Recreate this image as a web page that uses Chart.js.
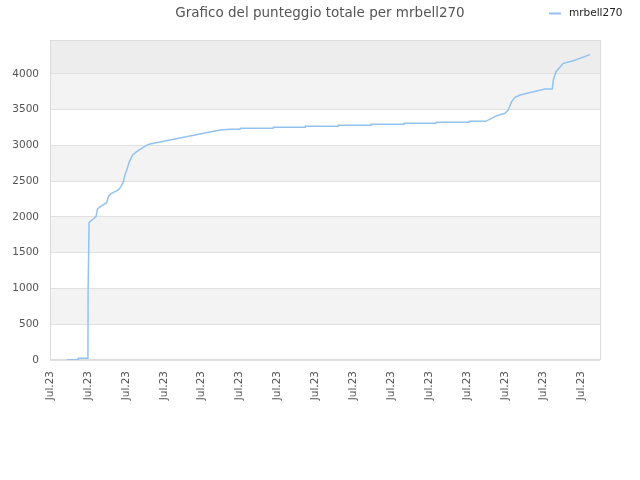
<!DOCTYPE html>
<html>
<head>
<meta charset="utf-8">
<script src="https://cdn.jsdelivr.net/npm/chart.js@4/dist/chart.umd.min.js"></script>
<style>
html,body{margin:0;padding:0;background:#fff;}
#wrap{width:640px;height:480px;}
</style>
</head>
<body>
<div id="wrap"><canvas id="c" width="640" height="480"></canvas></div>
<script>
const titleText = 'Grafico del punteggio totale per mrbell270';
const seriesName = 'mrbell270';
const xTickLabels = ['Jul.23','Jul.23','Jul.23','Jul.23','Jul.23','Jul.23','Jul.23','Jul.23','Jul.23','Jul.23','Jul.23','Jul.23','Jul.23','Jul.23','Jul.23'];
const xTickValues = [0,10,20,30,40,50,60,70,80,90,100,110,120,130,140];
const yTickValues = [0,500,1000,1500,2000,2500,3000,3500,4000];
const xValues = [4.5, 7.4, 7.45, 10.0, 10.05, 10.25, 10.3, 11.42, 12.13, 12.48, 13.0, 14.94, 15.38, 16.0, 18.0, 18.72, 19.34, 19.77, 20.39, 20.92, 21.8, 22.85, 24.17, 25.66, 26.36, 44.82, 47.45, 50.09, 50.2, 58.79, 58.9, 67.23, 67.3, 75.93, 76.0, 84.63, 84.7, 93.33, 93.4, 101.76, 101.85, 110.46, 110.55, 114.87, 117.77, 119.95, 120.82, 121.72, 122.59, 123.91, 127.42, 130.5, 132.43, 132.69, 133.4, 135.33, 137.97, 142.36];
const yValues = [5, 5, 25, 25, 980, 980, 1925, 1972, 2005, 2107, 2135, 2200, 2284, 2322, 2378, 2424, 2494, 2587, 2681, 2774, 2867, 2914, 2960, 3007, 3021, 3217, 3226, 3226, 3240, 3240, 3254, 3254, 3268, 3268, 3282, 3282, 3296, 3296, 3310, 3310, 3324, 3324, 3338, 3338, 3417, 3450, 3497, 3613, 3674, 3706, 3752, 3790, 3790, 3916, 4032, 4149, 4186, 4270];

const lineColor = '#94c2f0';
const FONT = 'DejaVu Sans';

const bandsPlugin = {
  id: 'bands',
  beforeDraw(chart) {
    const {ctx, chartArea: a, scales: {y}} = chart;
    ctx.save();
    ctx.fillStyle = '#ffffff';
    ctx.fillRect(a.left, a.top, a.right - a.left, a.bottom - a.top);
    const ticks = y.ticks.map(t => t.value);
    for (let i = 0; i < ticks.length; i++) {
      const lo = ticks[i];
      const hi = i + 1 < ticks.length ? ticks[i + 1] : y.max;
      const yTop = y.getPixelForValue(hi), yBot = y.getPixelForValue(lo);
      let col = null;
      if (i === ticks.length - 1) col = '#ededed';
      else if (i % 2 === 1) col = '#f3f3f3';
      if (col) { ctx.fillStyle = col; ctx.fillRect(a.left, yTop, a.right - a.left, yBot - yTop); }
    }
    ctx.restore();
  },
  beforeDatasetsDraw(chart) {
    const {ctx, chartArea: a} = chart;
    ctx.save();
    ctx.strokeStyle = '#dcdcdc';
    ctx.lineWidth = 1;
    ctx.strokeRect(Math.round(a.left) + 0.5, Math.round(a.top) + 0.5, Math.round(a.right - a.left), Math.round(a.bottom - a.top) - 1);
    ctx.restore();
  },
  afterDraw(chart) {
    const {ctx} = chart;
    ctx.save();
    ctx.strokeStyle = lineColor;
    ctx.lineWidth = 2;
    ctx.beginPath();
    ctx.moveTo(549, 13.5);
    ctx.lineTo(561, 13.5);
    ctx.stroke();
    ctx.fillStyle = '#222';
    ctx.font = '10.5px "' + FONT + '"';
    ctx.textBaseline = 'middle';
    ctx.textAlign = 'left';
    ctx.fillText(seriesName, 569, 13.5);
    ctx.restore();
  }
};

new Chart(document.getElementById('c'), {
  type: 'line',
  data: {
    datasets: [{
      label: seriesName,
      data: xValues.map((x, i) => ({x: x, y: yValues[i]})),
      borderColor: lineColor,
      backgroundColor: lineColor,
      borderWidth: 1.5,
      pointRadius: 0,
      tension: 0,
      fill: false
    }]
  },
  options: {
    responsive: false,
    animation: false,
    devicePixelRatio: 1,
    layout: {padding: {left: 0, right: 0, top: 0, bottom: 0}},
    plugins: {
      legend: {display: false},
      tooltip: {enabled: false},
      title: {
        display: true,
        text: titleText,
        color: '#555',
        font: {family: FONT, size: 13.5, weight: 'normal'},
        padding: {top: 5, bottom: 18.8}
      }
    },
    scales: {
      x: {
        type: 'linear',
        min: 0,
        max: 145,
        grid: {display: false, drawTicks: false},
        border: {display: false},
        afterBuildTicks(s) { s.ticks = xTickValues.map(v => ({value: v})); },
        ticks: {
          autoSkip: false,
          minRotation: 90,
          maxRotation: 90,
          padding: 11,
          color: '#555',
          font: {family: FONT, size: 10.5},
          callback: (v, i) => xTickLabels[i]
        },
        afterFit(s) { s.height = 120; }
      },
      y: {
        min: 0,
        max: 4475,
        grid: {color: '#e0e0e0', drawTicks: false},
        border: {display: false},
        afterBuildTicks(s) { s.ticks = yTickValues.map(v => ({value: v})); },
        ticks: {
          autoSkip: false,
          padding: 11,
          color: '#555',
          font: {family: FONT, size: 10.5},
          callback: (v) => String(v)
        },
        afterFit(s) { s.width = 50; }
      },
      yRight: {
        position: 'right',
        display: true,
        grid: {display: false, drawTicks: false},
        border: {display: false},
        ticks: {display: false},
        afterFit(s) { s.width = 40; }
      }
    }
  },
  plugins: [bandsPlugin]
});
</script>
</body>
</html>
